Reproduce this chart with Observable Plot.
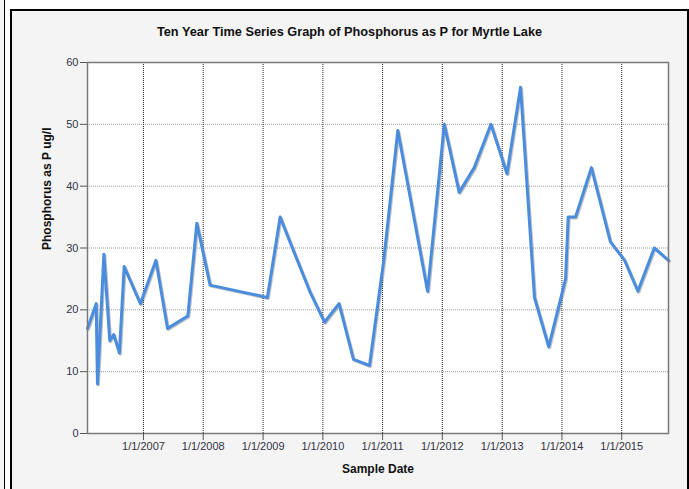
<!DOCTYPE html>
<html><head><meta charset="utf-8">
<script src="https://cdn.jsdelivr.net/npm/d3@7"></script>
<script src="https://cdn.jsdelivr.net/npm/@observablehq/plot@0.6"></script>
<style>
body{margin:0;background:#fff;}
#wrap{position:relative;width:689px;height:489px;overflow:hidden;background:#fff;font-family:"Liberation Sans",Arial,sans-serif;}
#strip{position:absolute;left:0;top:0;width:4px;height:489px;background:#f4f4f4;border-right:1px solid #000;}
#box{position:absolute;left:10px;top:9px;width:679px;height:500px;background:#f4f4f4;border:2px solid #000;box-sizing:border-box;}
#title{position:absolute;left:10px;top:25px;width:679px;text-align:center;font-weight:bold;font-size:12.75px;line-height:14px;color:#111;}
#chart{position:absolute;left:0;top:0;}
</style></head>
<body>
<div id="wrap">
  <div id="strip"></div>
  <div id="box"></div>
  <div id="chart"></div>
  <div id="title">Ten Year Time Series Graph of Phosphorus as P for Myrtle Lake</div>
</div>
<script>
const sampleDates = ["2006-01-24","2006-03-18","2006-03-26","2006-05-04","2006-06-09","2006-07-03","2006-08-07","2006-09-05","2006-12-13",
  "2007-03-18","2007-05-28","2007-09-29","2007-11-23","2008-02-12","2009-01-27","2009-04-15","2009-07-14","2009-10-13",
  "2010-01-11","2010-04-10","2010-07-07","2010-10-13","2011-01-08","2011-04-04","2011-10-03","2012-01-13","2012-04-13",
  "2012-07-14","2012-10-24","2013-01-30","2013-04-23","2013-07-17","2013-10-12","2014-01-23","2014-02-08","2014-03-25",
  "2014-06-30","2014-10-24","2015-01-19","2015-04-10","2015-07-19","2015-10-14"];
const phosphorus = [17,21,8,29,15,16,13,27,21,
  28,17,19,34,24,22,35,29,23,
  18,21,12,11,28,49,23,50,39,
  43,50,42,56,22,14,25,35,35,
  43,31,28,23,30,28];
const xTickYears = [2007,2008,2009,2010,2011,2012,2013,2014,2015];
const yTickValues = [0,10,20,30,40,50,60];
const titleText = "Ten Year Time Series Graph of Phosphorus as P for Myrtle Lake";
const xLabel = "Sample Date";
const yLabel = "Phosphorus as P ug/l";

const data = sampleDates.map((d,i)=>({date:new Date(d+"T00:00:00Z"), value:phosphorus[i]}));
const xTicks = xTickYears.map(y=>new Date(Date.UTC(y,0,1)));

const chart = Plot.plot({
  width:689, height:489,
  marginLeft:87, marginRight:21, marginTop:62, marginBottom:56,
  style:{background:"transparent", fontFamily:"'Liberation Sans', Arial, sans-serif", fontSize:"11px", color:"#333344", overflow:"visible"},
  x:{type:"utc", domain:[data[0].date, data[data.length-1].date]},
  y:{domain:[0,60]},
  marks:[
    Plot.frame({fill:"white"}),
    Plot.gridY(yTickValues,{stroke:"#9a9a9a", strokeOpacity:1, strokeDasharray:"1,1"}),
    Plot.gridX(xTicks,{stroke:"#222", strokeOpacity:1, strokeDasharray:"1,1"}),
    Plot.line(data,{x:"date", y:"value", stroke:"#333", strokeWidth:3, strokeOpacity:0.3, dx:1, dy:1}),
    Plot.line(data,{x:"date", y:"value", stroke:"#4a8ddf", strokeWidth:3}),
    Plot.frame({stroke:"#7a7a7a", strokeWidth:1.5}),
    Plot.axisY(yTickValues,{tickSize:7, tickPadding:2, stroke:"#555", label:null}),
    Plot.axisX(xTicks,{tickSize:7, tickPadding:2, stroke:"#555", tickFormat:d=>`1/1/${d.getUTCFullYear()}`, label:null}),
    Plot.text([yLabel],{frameAnchor:"left", text:d=>d, rotate:-90, dx:-40, dy:2, fontWeight:"bold", fontSize:12, fill:"#111"}),
    Plot.text([xLabel],{frameAnchor:"bottom", text:d=>d, dy:39, fontWeight:"bold", fontSize:12, fill:"#111"})
  ]
});
document.getElementById("chart").appendChild(chart);
</script>
</body></html>
